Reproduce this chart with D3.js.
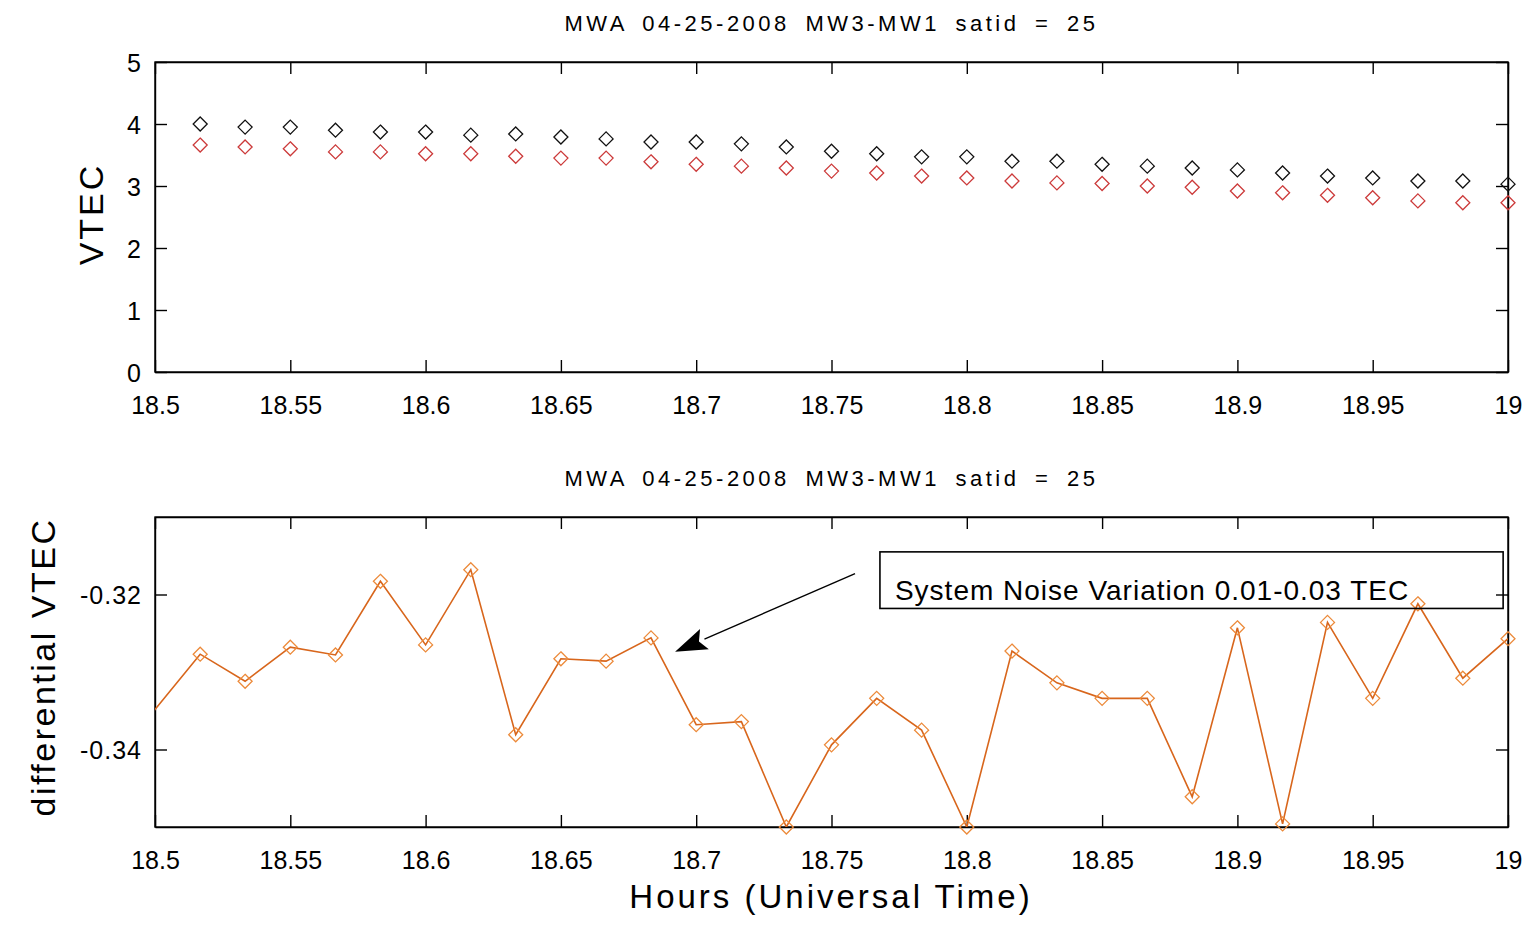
<!DOCTYPE html>
<html>
<head>
<meta charset="utf-8">
<script src="https://cdn.jsdelivr.net/npm/d3@7"></script>
<style>
body{margin:0;background:#fff;}
svg text{font-family:"Liberation Sans",Arial,sans-serif;fill:#000;}
.axis path,.axis line{stroke:#000;stroke-width:1.4;}
</style>
</head>
<body>
<script>
// time stamps (hours UT), one minute apart
var hours = [18.5167,18.5333,18.55,18.5667,18.5833,18.6,18.6167,18.6333,18.65,18.6667,
	18.6833,18.7,18.7167,18.7333,18.75,18.7667,18.7833,18.8,18.8167,18.8333,
	18.85,18.8667,18.8833,18.9,18.9167,18.9333,18.95,18.9667,18.9833,19.0];
// VTEC of the two receivers (black / red diamonds)
var vtecBlack = [4.00,3.95,3.95,3.90,3.87,3.87,3.82,3.84,3.79,3.76,
	3.71,3.71,3.68,3.63,3.56,3.52,3.47,3.47,3.40,3.40,
	3.35,3.32,3.29,3.26,3.21,3.16,3.13,3.08,3.08,3.03];
var vtecRed = [3.66,3.63,3.60,3.55,3.55,3.52,3.52,3.48,3.45,3.45,
	3.39,3.35,3.32,3.29,3.24,3.21,3.16,3.13,3.08,3.05,
	3.04,3.00,2.98,2.92,2.89,2.85,2.81,2.76,2.73,2.73];
// differential VTEC (starts one minute before the axis)
var diffHours = [18.4833].concat(hours);
var diffVtec = [-0.3420,-0.3277,-0.3312,-0.3268,-0.3278,-0.3183,-0.3265,-0.3168,-0.3381,-0.3283,-0.3286,
	-0.3256,-0.3368,-0.3364,-0.3500,-0.3394,-0.3334,-0.3375,-0.3500,-0.3273,-0.3314,
	-0.3334,-0.3334,-0.3461,-0.3243,-0.3496,-0.3236,-0.3334,-0.3212,-0.3308,-0.3257];

var xTicks = [18.5,18.55,18.6,18.65,18.7,18.75,18.8,18.85,18.9,18.95,19];
var yTicksTop = [0,1,2,3,4,5];
var yTicksBottom = [-0.34,-0.32];

var titleText = "MWA 04-25-2008 MW3-MW1 satid = 25";
var noteText = "System Noise Variation 0.01-0.03 TEC";
// annotation, in data units of the lower plot
var noteBox = {x0:18.7679, x1:18.9982, y0:-0.3145, y1:-0.3218};
var arrowTail = [18.7587,-0.3173], arrowTip = [18.6922,-0.3274];

var width = 1529, height = 928;
var svg = d3.select("body").append("svg")
	.attr("width", width)
	.attr("height", height);

var x = d3.scaleLinear().domain([18.5,19]).range([155,1508]);
var yTop = d3.scaleLinear().domain([0,5]).range([372,62]);
var yBot = d3.scaleLinear().domain([-0.35,-0.31]).range([827,517]);

function diamond(r){
	return "M0,"+(-r)+"L"+r+",0L0,"+r+"L"+(-r)+",0Z";
}

function inside(xv, yv, ys){
	var d = ys.domain();
	return xv >= 18.5-1e-6 && xv <= 19+1e-6 && yv >= d[0]-1e-4 && yv <= d[1]+1e-4;
}

// draws one matlab style box with inward ticks
function makeAxes(y, yTicks, id){
	var top = y.range()[1], bot = y.range()[0];

	svg.append("clipPath").attr("id", id)
		.append("rect")
		.attr("x", 155).attr("y", top)
		.attr("width", 1508-155).attr("height", bot-top);

	var xb = svg.append("g").attr("class","axis")
		.attr("transform","translate(0,"+bot+")")
		.call(d3.axisBottom(x).tickValues(xTicks).tickSizeInner(-12).tickSizeOuter(0).tickFormat(d => String(d)));
	xb.selectAll("text").attr("y", 42).attr("dy", null).style("font-size","25px");

	svg.append("g").attr("class","axis")
		.attr("transform","translate(0,"+top+")")
		.call(d3.axisTop(x).tickValues(xTicks).tickSizeInner(-12).tickSizeOuter(0).tickFormat(""));

	var yl = svg.append("g").attr("class","axis")
		.attr("transform","translate(155,0)")
		.call(d3.axisLeft(y).tickValues(yTicks).tickSizeInner(-12).tickSizeOuter(0).tickFormat(d => String(d)));
	yl.selectAll("text").attr("x", -13).attr("dy","0.36em")
		.style("font-size","25px").style("letter-spacing","1px");

	svg.append("g").attr("class","axis")
		.attr("transform","translate(1508,0)")
		.call(d3.axisRight(y).tickValues(yTicks).tickSizeInner(-12).tickSizeOuter(0).tickFormat(""));

	svg.append("rect")
		.attr("x",155).attr("y",top)
		.attr("width",1508-155).attr("height",bot-top)
		.attr("fill","none").attr("stroke","#000").attr("stroke-width",1.4);

	svg.append("text")
		.attr("x", (155+1508)/2)
		.attr("y", top-31)
		.attr("text-anchor","middle")
		.style("font-size","22px")
		.style("letter-spacing","3.5px")
		.style("word-spacing","6px")
		.text(titleText);
}

makeAxes(yTop, yTicksTop, "clipTop");
makeAxes(yBot, yTicksBottom, "clipBot");

// top plot: two diamond series
var topData = hours.map((h,i) => ({h:h, b:vtecBlack[i], r:vtecRed[i]}));

svg.append("g").selectAll("path")
	.data(topData.filter(d => inside(d.h, d.r, yTop)))
	.enter().append("path")
	.attr("d", diamond(7))
	.attr("transform", d => "translate("+x(d.h)+","+yTop(d.r)+")")
	.attr("fill","none").attr("stroke","#cc3a3a").attr("stroke-width",1.3);

svg.append("g").selectAll("path")
	.data(topData.filter(d => inside(d.h, d.b, yTop)))
	.enter().append("path")
	.attr("d", diamond(7))
	.attr("transform", d => "translate("+x(d.h)+","+yTop(d.b)+")")
	.attr("fill","none").attr("stroke","#111").attr("stroke-width",1.3);

// bottom plot: differential line
var diffData = diffHours.map((h,i) => ({h:h, v:diffVtec[i]}));
var line = d3.line().x(d => x(d.h)).y(d => yBot(d.v));

svg.append("path")
	.datum(diffData)
	.attr("clip-path","url(#clipBot)")
	.attr("d", line)
	.attr("fill","none").attr("stroke","#d8661c").attr("stroke-width",1.6);

svg.append("g").selectAll("path")
	.data(diffData.filter(d => inside(d.h, d.v, yBot)))
	.enter().append("path")
	.attr("d", diamond(7))
	.attr("transform", d => "translate("+x(d.h)+","+yBot(d.v)+")")
	.attr("fill","none").attr("stroke","#ec8a3a").attr("stroke-width",1.3);

// annotation box + arrow
svg.append("rect")
	.attr("x", x(noteBox.x0)).attr("y", yBot(noteBox.y0))
	.attr("width", x(noteBox.x1)-x(noteBox.x0))
	.attr("height", yBot(noteBox.y1)-yBot(noteBox.y0))
	.attr("fill","none").attr("stroke","#000").attr("stroke-width",1.6);

svg.append("text")
	.attr("x", x(noteBox.x0)+15)
	.attr("y", yBot(noteBox.y1)-8)
	.style("font-size","28px")
	.style("letter-spacing","1px")
	.text(noteText);

var tx = x(arrowTail[0]), ty = yBot(arrowTail[1]);
var px = x(arrowTip[0]), py = yBot(arrowTip[1]);
var ang = Math.atan2(py-ty, px-tx);
var hl = 32, hw = 11;
var bx = px - hl*Math.cos(ang), by = py - hl*Math.sin(ang);
svg.append("line")
	.attr("x1",tx).attr("y1",ty).attr("x2",bx).attr("y2",by)
	.attr("stroke","#000").attr("stroke-width",1.4);
svg.append("path")
	.attr("d", "M"+px+","+py
		+"L"+(bx - hw*Math.sin(ang))+","+(by + hw*Math.cos(ang))
		+"L"+(bx + 6*Math.cos(ang))+","+(by + 6*Math.sin(ang))
		+"L"+(bx + hw*Math.sin(ang))+","+(by - hw*Math.cos(ang))+"Z")
	.attr("fill","#000");

// axis labels
svg.append("text")
	.attr("transform","translate(103,214)rotate(-90)")
	.attr("text-anchor","middle")
	.style("font-size","34px")
	.style("letter-spacing","3px")
	.text("VTEC");

svg.append("text")
	.attr("transform","translate(55,667)rotate(-90)")
	.attr("text-anchor","middle")
	.style("font-size","34px")
	.style("letter-spacing","2.5px")
	.text("differential VTEC");

svg.append("text")
	.attr("x", 831)
	.attr("y", 908)
	.attr("text-anchor","middle")
	.style("font-size","33px")
	.style("letter-spacing","3px")
	.text("Hours (Universal Time)");
</script>
</body>
</html>
